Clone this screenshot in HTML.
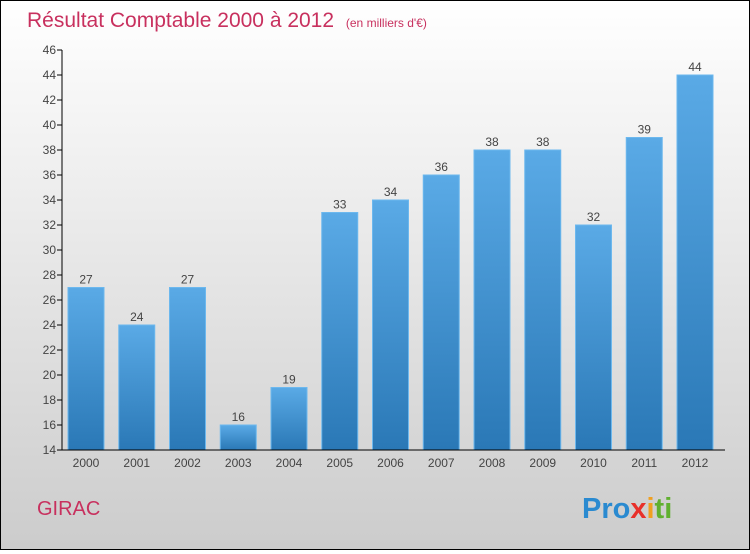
<!DOCTYPE html>
<html><head><meta charset="utf-8"><style>
body{margin:0;width:750px;height:550px;overflow:hidden}
#c{position:absolute;left:0;top:0;width:748px;height:548px;border:1px solid #000;background:linear-gradient(#ffffff,#cccccc)}
text{font-family:"Liberation Sans",sans-serif}
</style></head><body>
<div id="c">
<svg id="s" width="748" height="548">
<defs><linearGradient id="g" x1="0" y1="0" x2="0" y2="1"><stop offset="0" stop-color="#5aaae6"/><stop offset="1" stop-color="#2a78b6"/></linearGradient></defs>
<text x="26" y="26" font-size="21" fill="#c8305e">Résultat Comptable 2000 à 2012 <tspan font-size="12" dx="6">(en milliers d'€)</tspan></text>
<text x="36" y="514" font-size="20" fill="#c8305e">GIRAC</text>
<text x="581" y="517" font-size="29" font-weight="bold"><tspan fill="#2a8ad0">Pro</tspan><tspan fill="#e8302a">x</tspan><tspan fill="#f0a020">i</tspan><tspan fill="#60b030">ti</tspan></text>
<g id="plot"></g>
</svg></div>
<script>
const years=["2000","2001","2002","2003","2004","2005","2006","2007","2008","2009","2010","2011","2012"];
const values=[27,24,27,16,19,33,34,36,38,38,32,39,44];
const ticks=[14,16,18,20,22,24,26,28,30,32,34,36,38,40,42,44,46];
const NS="http://www.w3.org/2000/svg",p=document.getElementById("plot");
const y=v=>449-(v-14)*12.5, x=i=>85+i*50.75;
function el(t,a,par){const e=document.createElementNS(NS,t);for(const k in a)e.setAttribute(k,a[k]);(par||p).appendChild(e);return e;}
ticks.forEach(t=>{
 const l=el("line",{x1:56,x2:61,y1:y(t),y2:y(t),stroke:"#000"});
 
 
 const tx=el("text",{x:55,y:y(t)+4,"font-size":12,"text-anchor":"end",fill:"#444"});tx.textContent=t;
 
 
});
values.forEach((v,i)=>{
 const r=el("rect",{x:x(i)-18,y:y(v),width:36,height:449-y(v),fill:"url(#g)",stroke:"#6cb8ee","stroke-width":1});
 
 
 const t=el("text",{x:x(i),y:y(v)-4,"font-size":12,"text-anchor":"middle",fill:"#444"});t.textContent=v;
 
 
 const yl=el("text",{x:x(i),y:466,"font-size":12,"text-anchor":"middle",fill:"#444"});yl.textContent=years[i];
 
 
});
const ax=el("line",{x1:61,x2:61,y1:y(46),y2:449,stroke:"#000"});


const bx=el("line",{x1:61,x2:724,y1:449,y2:449,stroke:"#000"});


</script></body></html>
